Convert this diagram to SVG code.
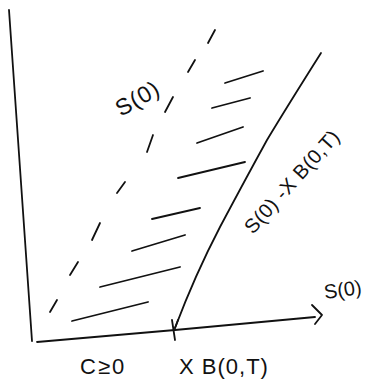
<svg xmlns="http://www.w3.org/2000/svg" width="366" height="381" viewBox="0 0 366 381">
<style>
.ln{fill:none;stroke:#111;stroke-width:1.8;stroke-linecap:round;stroke-linejoin:round}
.hatch{fill:none;stroke:#111;stroke-width:1.8;stroke-linecap:round}
.lbl{font-family:"Liberation Sans","DejaVu Sans",sans-serif;fill:#111}
</style>
<rect width="366" height="381" fill="#fff"/>
<g id="connectors">
<path class="ln" d="M9,10 Q22,200 32,341"/>
<path class="ln" d="M37,342 L175,330 L315,317"/>
<path class="ln" d="M312,305 L322,315 L315,324"/>
<path class="ln" d="M321,53 Q285,110 267,140 Q245,180 220,227 Q195,275 175,328"/>
<path class="ln" d="M172,320 L175,340 M175,328 L178,320"/>
<g class="hatch">
<path d="M50,312 L57,300"/>
<path d="M70,275 L78,262"/>
<path d="M92,240 L100,223"/>
<path d="M117,193 L125,182"/>
<path d="M147,152 L153,135"/>
<path d="M165,112 L173,97"/>
<path d="M188,72 L195,60"/>
<path d="M208,43 L215,30"/>
</g>
<g class="hatch">
<path d="M225,83 L263,71"/>
<path d="M212,108 L250,98"/>
<path d="M197,143 L243,127"/>
<path d="M178,178 L245,162"/>
<path d="M152,219 L200,208"/>
<path d="M132,251 L185,235"/>
<path d="M100,287 L180,267"/>
<path d="M72,321 L148,302"/>
</g>
</g>
<g id="label-s0-diag"><text class="lbl" font-size="23" letter-spacing="1" transform="translate(121,117) rotate(-30)">S(0)</text></g>
<g id="label-s0-minus"><text class="lbl" font-size="20" letter-spacing="0.5" transform="translate(253,235) rotate(-48)">S(0) -X B(0,T)</text></g>
<g id="label-s0-axis"><text class="lbl" font-size="20" transform="translate(325,299) rotate(-8)">S(0)</text></g>
<g id="label-c"><text class="lbl" font-size="22" letter-spacing="2" x="80" y="374">C≥0</text></g>
<g id="label-xb"><text class="lbl" font-size="22" letter-spacing="1" x="179" y="374">X B(0,T)</text></g>
</svg>
